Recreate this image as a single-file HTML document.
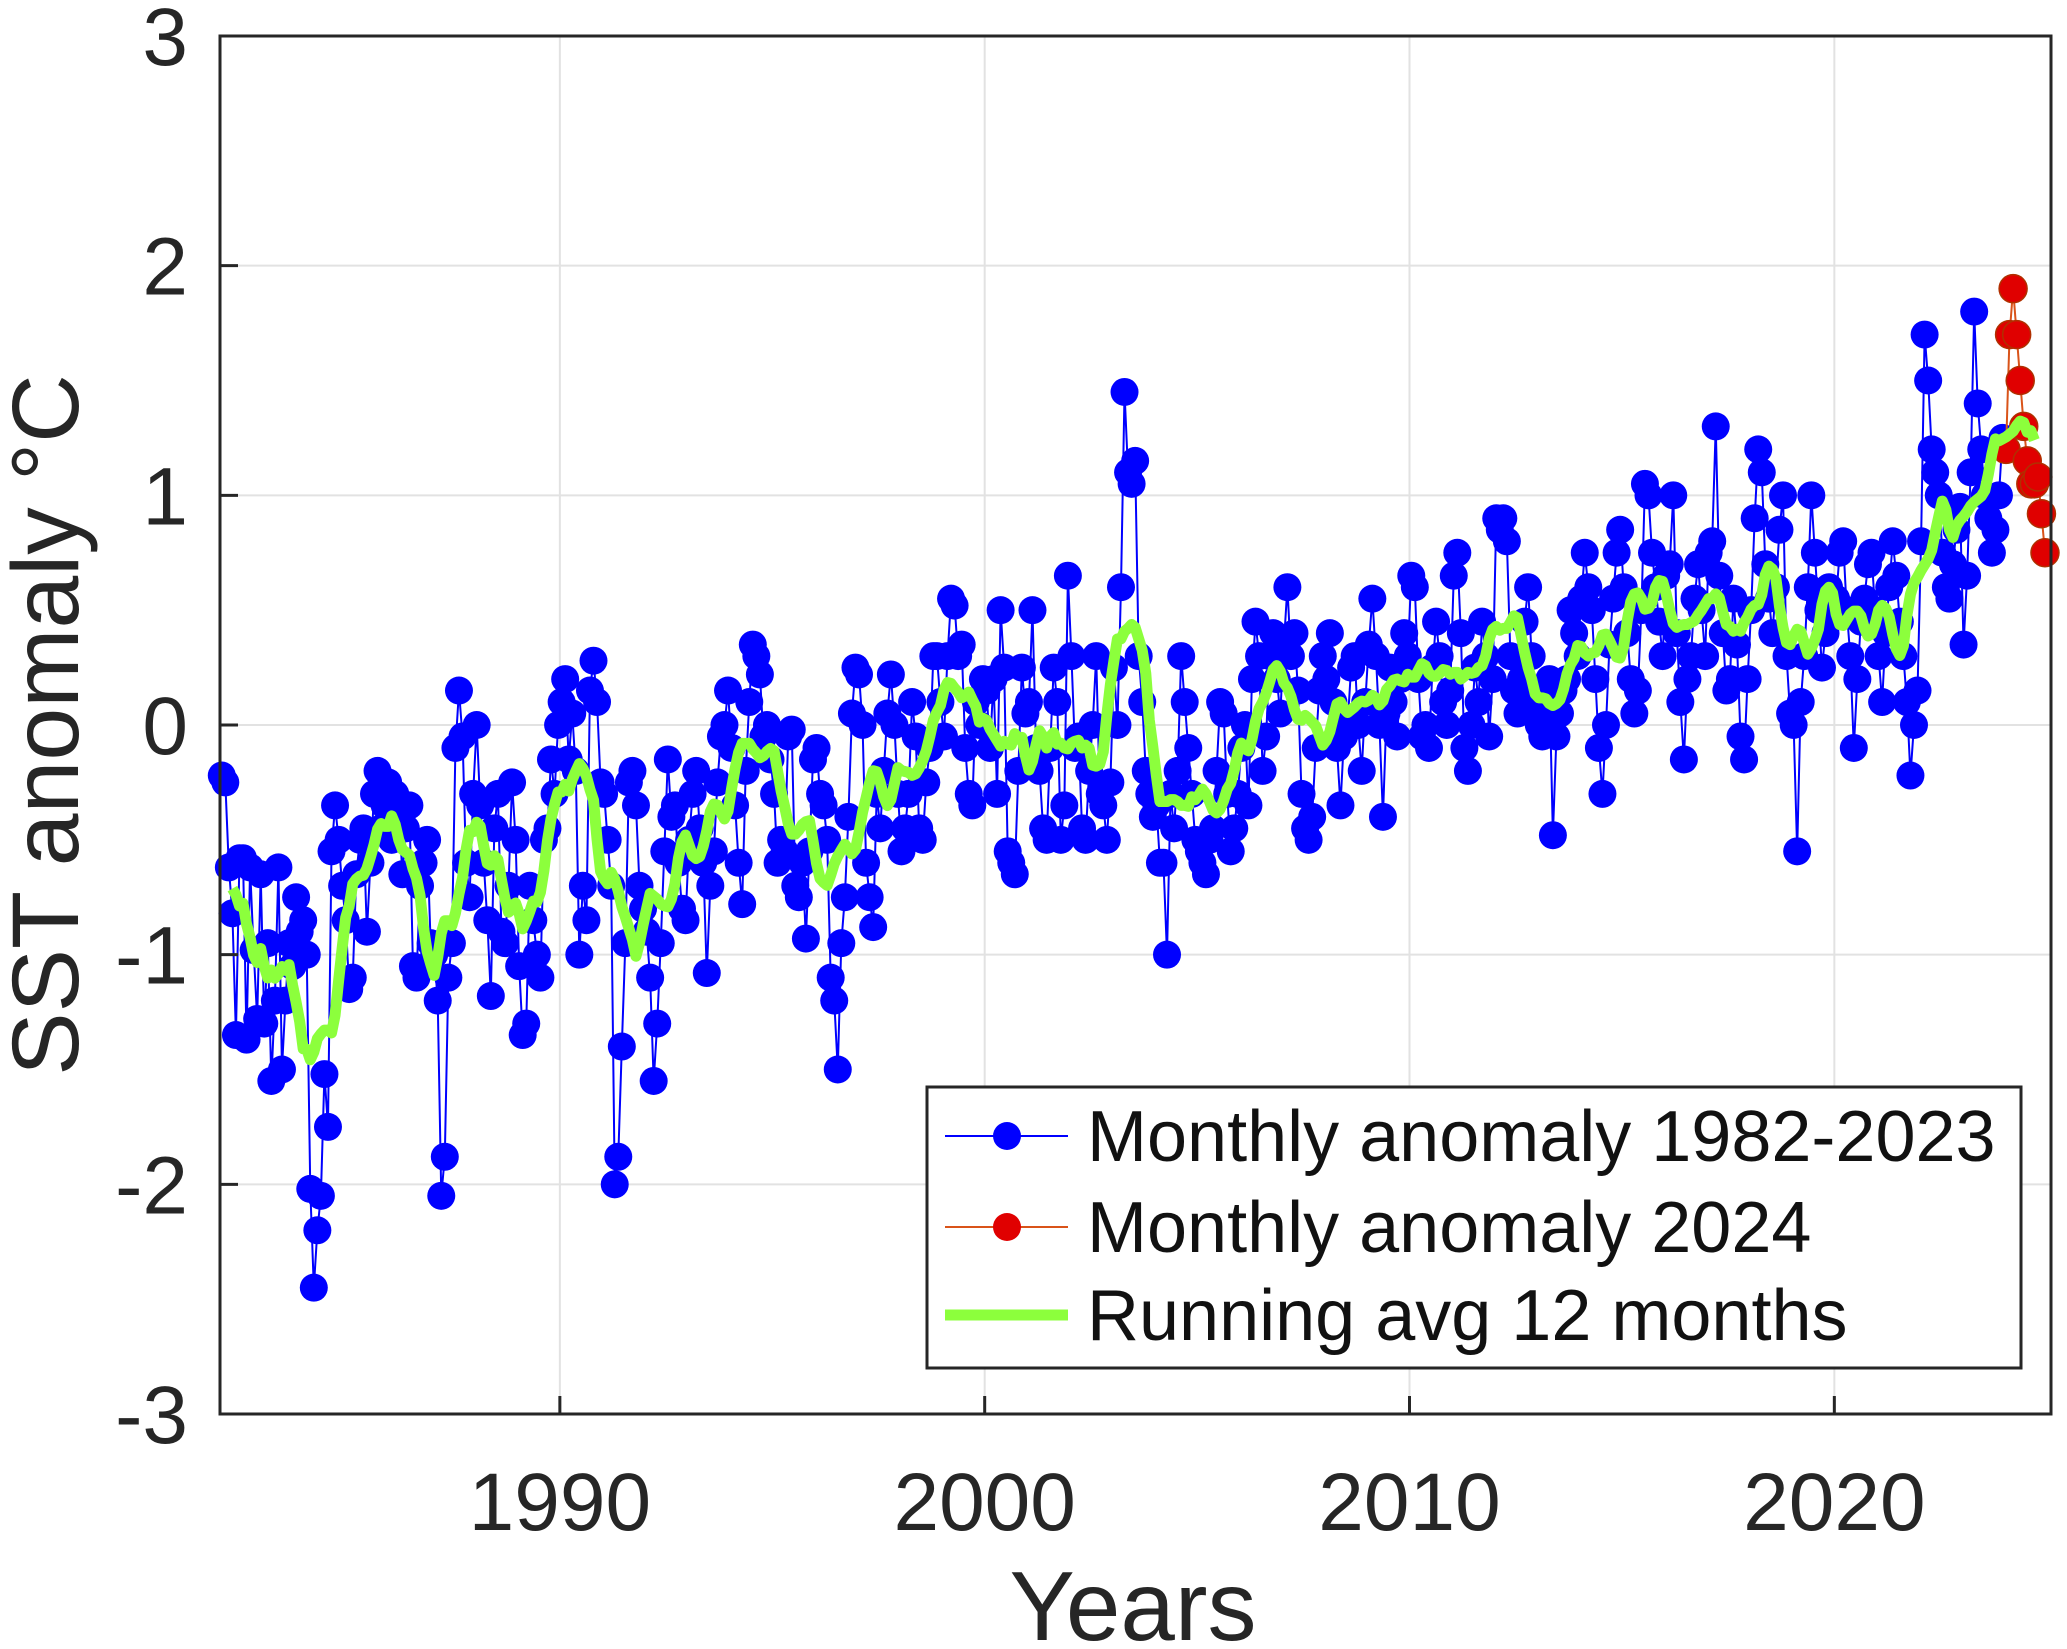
<!DOCTYPE html>
<html><head><meta charset="utf-8"><style>
html,body{margin:0;padding:0;background:#fff;}
svg{display:block;font-family:"Liberation Sans",sans-serif;}
</style></head><body>
<svg id="chart" width="2067" height="1649" viewBox="0 0 2067 1649"></svg>
<script>
const yearStart = 1982;
const months1982to2023 = [
-0.22,-0.25,-0.62,-0.82,-1.35,-0.58,-0.58,-1.37,-0.62,-0.98,-1.28,-0.65,
-1.3,-0.95,-1.55,-1.2,-0.62,-1.5,-1.2,-0.95,-1.05,-0.75,-0.9,-0.85,
-1.0,-2.02,-2.45,-2.2,-2.05,-1.52,-1.75,-0.55,-0.35,-0.5,-0.7,-0.85,
-1.15,-1.1,-0.65,-0.5,-0.45,-0.9,-0.6,-0.3,-0.2,-0.45,-0.35,-0.25,
-0.5,-0.3,-0.35,-0.65,-0.45,-0.35,-1.05,-1.1,-0.7,-0.6,-0.5,-0.95,
-1.0,-1.2,-2.05,-1.88,-1.1,-0.95,-0.1,0.15,-0.05,-0.6,-0.75,-0.3,
0.0,-0.35,-0.6,-0.85,-1.18,-0.45,-0.3,-0.9,-0.95,-0.7,-0.25,-0.5,
-1.05,-1.35,-1.3,-0.7,-0.85,-1.0,-1.1,-0.5,-0.45,-0.15,-0.3,0.0,
0.1,0.2,-0.15,0.05,-0.2,-1.0,-0.7,-0.85,0.15,0.28,0.1,-0.25,
-0.3,-0.5,-0.7,-2.0,-1.88,-1.4,-0.95,-0.25,-0.2,-0.35,-0.7,-0.8,
-0.9,-1.1,-1.55,-1.3,-0.95,-0.55,-0.15,-0.4,-0.35,-0.6,-0.8,-0.85,
-0.5,-0.3,-0.2,-0.45,-0.6,-1.08,-0.7,-0.55,-0.25,-0.05,0.0,0.15,
-0.1,-0.35,-0.6,-0.78,-0.2,0.1,0.35,0.3,0.22,-0.05,0.0,-0.15,
-0.3,-0.6,-0.5,-0.55,-0.05,-0.02,-0.7,-0.75,-0.6,-0.93,-0.55,-0.15,
-0.1,-0.3,-0.35,-0.5,-1.1,-1.2,-1.5,-0.95,-0.75,-0.4,0.05,0.25,
0.22,0.0,-0.6,-0.75,-0.88,-0.3,-0.45,-0.2,0.05,0.22,0.0,-0.3,
-0.55,-0.45,-0.3,0.1,-0.05,-0.45,-0.5,-0.25,-0.1,0.3,0.3,0.1,
-0.05,0.3,0.55,0.52,0.3,0.35,-0.1,-0.3,-0.35,0.1,0.0,0.2,
0.15,-0.1,0.2,-0.3,0.5,0.25,-0.55,-0.6,-0.65,-0.2,0.25,0.05,
0.1,0.5,-0.1,-0.2,-0.45,-0.5,-0.1,0.25,0.1,-0.5,-0.35,0.65,
0.3,-0.1,-0.05,-0.45,-0.5,-0.2,0.0,0.3,-0.3,-0.35,-0.5,-0.25,
0.25,0.0,0.6,1.45,1.1,1.05,1.15,0.3,0.1,-0.2,-0.3,-0.4,
-0.35,-0.6,-0.6,-1.0,-0.3,-0.45,-0.2,0.3,0.1,-0.1,-0.3,-0.5,
-0.55,-0.6,-0.65,-0.5,-0.45,-0.2,0.1,0.05,-0.3,-0.55,-0.45,-0.3,
-0.1,0.0,-0.35,0.2,0.45,0.3,-0.2,-0.05,0.3,0.4,0.2,0.05,
0.35,0.6,0.3,0.4,0.15,-0.3,-0.45,-0.5,-0.4,-0.1,0.15,0.3,
0.2,0.4,0.1,-0.1,-0.35,-0.05,0.0,0.25,0.3,0.0,-0.2,0.1,
0.35,0.55,0.3,0.0,-0.4,0.05,0.25,0.1,-0.05,0.2,0.4,0.3,
0.65,0.6,0.2,-0.05,0.0,-0.1,0.25,0.45,0.3,0.1,0.0,0.15,
0.65,0.75,0.4,-0.1,-0.2,0.0,0.25,0.1,0.45,0.3,-0.05,0.2,
0.9,0.85,0.9,0.8,0.3,0.15,0.05,0.2,0.45,0.6,0.3,0.1,
0.0,-0.05,0.1,0.2,-0.48,-0.05,0.05,0.15,0.2,0.5,0.4,0.3,
0.55,0.75,0.6,0.5,0.2,-0.1,-0.3,0.0,0.35,0.55,0.75,0.85,
0.6,0.4,0.2,0.05,0.15,0.5,1.05,1.0,0.75,0.6,0.45,0.3,
0.65,0.7,1.0,0.4,0.1,-0.15,0.2,0.3,0.55,0.7,0.5,0.3,
0.75,0.8,1.3,0.65,0.4,0.15,0.2,0.55,0.35,-0.05,-0.15,0.2,
0.5,0.9,1.2,1.1,0.7,0.55,0.4,0.6,0.85,1.0,0.3,0.05,
0.0,-0.55,0.1,0.3,0.6,1.0,0.75,0.5,0.25,0.4,0.6,0.5,
0.55,0.75,0.8,0.5,0.3,-0.1,0.2,0.45,0.55,0.7,0.75,0.5,
0.3,0.1,0.4,0.6,0.8,0.65,0.45,0.3,0.1,-0.22,0.0,0.15,
0.8,1.7,1.5,1.2,1.1,1.0,0.75,0.6,0.55,0.7,0.85,0.95,
0.35,0.65,1.1,1.8,1.4,1.2,1.0,0.9,0.75,0.85,1.0,1.25
];
const months2024 = [1.2,1.7,1.9,1.7,1.5,1.3,1.15,1.05,1.05,1.08,0.92,0.75];
const yTicks = [-3,-2,-1,0,1,2,3];
const xTicks = [1990,2000,2010,2020];

const L=220,R=2051,T=36,B=1414, X0=1982.0, X1=2025.1;
const sx = v => L + (v - X0) / (X1 - X0) * (R - L);
const sy = v => B - (v + 3) / 6 * (B - T);
const NS='http://www.w3.org/2000/svg';
const svg=document.getElementById('chart');
function mk(tag, attrs, parent){const e=document.createElementNS(NS,tag);for(const k in attrs)e.setAttribute(k,attrs[k]);(parent||svg).appendChild(e);return e;}

mk('rect',{x:L,y:T,width:R-L,height:B-T,fill:'#fff'});
const grid=mk('g',{});


yTicks.forEach(t=>{mk('line',{x1:L,x2:R,y1:sy(t),y2:sy(t),stroke:'#e2e2e2','stroke-width':2},grid);});
xTicks.forEach(t=>{mk('line',{x1:sx(t),x2:sx(t),y1:T,y2:B,stroke:'#e2e2e2','stroke-width':2},grid);});

const tm = i => yearStart + (i + 0.5) / 12;
const blue=mk('g',{});


mk('polyline',{points:months1982to2023.map((v,i)=>sx(tm(i))+','+sy(v)).join(' '),fill:'none',stroke:'#0000ff','stroke-width':2},blue);
months1982to2023.forEach((v,i)=>{mk('circle',{cx:sx(tm(i)),cy:sy(v),r:14,fill:'#0000ff'},blue);});

const red=mk('g',{});


const off=months1982to2023.length;
mk('polyline',{points:months2024.map((v,i)=>sx(tm(off+i))+','+sy(v)).join(' '),fill:'none',stroke:'#d95319','stroke-width':2},red);
months2024.forEach((v,i)=>{mk('circle',{cx:sx(tm(off+i)),cy:sy(v),r:14,fill:'#e00000',stroke:'#b03000','stroke-width':1.5},red);});

const all=months1982to2023.concat(months2024);
const run=[];
for(let i=3;i<all.length-3;i++){let s=0,n=0;for(let j=i-6;j<=i+5;j++){if(j>=0&&j<all.length){s+=all[j];n++;}}run.push([tm(i),s/n]);}
const g=mk('polyline',{points:run.map(p=>sx(p[0])+','+sy(p[1])).join(' '),fill:'none',stroke:'#8cff3c','stroke-width':11,'stroke-linejoin':'round'});



mk('rect',{x:L,y:T,width:R-L,height:B-T,fill:'none',stroke:'#262626','stroke-width':3});
yTicks.forEach(t=>{
 mk('line',{x1:L,x2:L+18,y1:sy(t),y2:sy(t),stroke:'#262626','stroke-width':3});
 const tx=mk('text',{x:188,y:sy(t)+29,'text-anchor':'end','font-size':82,fill:'#262626'});
 tx.textContent=t;
 
 
});
xTicks.forEach(t=>{
 mk('line',{x1:sx(t),x2:sx(t),y1:B,y2:B-18,stroke:'#262626','stroke-width':3});
 const tx=mk('text',{x:sx(t),y:1530,'text-anchor':'middle','font-size':82,fill:'#262626'});
 tx.textContent=t;
 
 
});
const xl=mk('text',{x:1133,y:1640,'text-anchor':'middle','font-size':98,fill:'#262626'});
xl.textContent='Years';


const yl=mk('text',{x:0,y:0,transform:'translate(78,725) rotate(-90)','text-anchor':'middle','font-size':95,fill:'#262626'});
yl.textContent='SST anomaly °C';



const lg=mk('g',{});


mk('rect',{x:927,y:1087,width:1094,height:281,fill:'#fff',stroke:'#262626','stroke-width':3},lg);
const rows=[[1136,'Monthly anomaly 1982-2023','blue'],[1227,'Monthly anomaly 2024','red'],[1315,'Running avg 12 months','green']];
rows.forEach(r=>{
 const e=mk('g',{},lg);
 
 
 if(r[2]==='green'){mk('line',{x1:945,x2:1068,y1:r[0],y2:r[0],stroke:'#8cff3c','stroke-width':11},e);}
 else{
  mk('line',{x1:945,x2:1068,y1:r[0],y2:r[0],stroke:r[2]==='blue'?'#0000ff':'#d95319','stroke-width':2},e);
  mk('circle',{cx:1007,cy:r[0],r:14,fill:r[2]==='blue'?'#0000ff':'#e00000'},e);
 }
 const t=mk('text',{x:1087,y:r[0]+25,'font-size':72,fill:'#111'},e);
 t.textContent=r[1];
});
</script>
</body></html>
